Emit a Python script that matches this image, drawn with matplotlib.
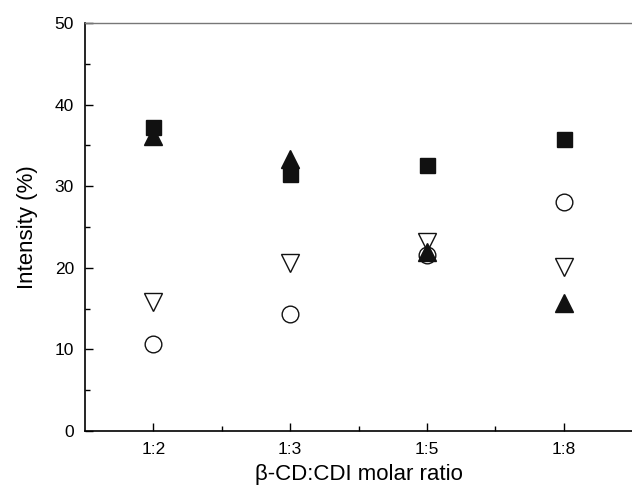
import matplotlib
matplotlib.use('Agg')

import matplotlib.pyplot as plt
import numpy as np
from matplotlib.ticker import MultipleLocator, FixedLocator

plt.rcParams['font.family'] = ['Liberation Sans', 'DejaVu Sans']

ratios = ['1:2', '1:3', '1:5', '1:8']
square_vals = [37.3, 31.5, 32.6, 35.8]      # filled squares
tri_up_vals = [36.1, 33.3, 21.9, 15.7]      # filled up triangles
tri_down_vals = [15.8, 20.6, 23.2, 20.1]    # open down triangles
circle_vals = [10.7, 14.3, 21.6, 28.1]      # open circles

x = np.arange(1, len(ratios) + 1)

fig = plt.figure(figsize=(6.32, 4.88), dpi=100)
ax = fig.add_axes([85 / 632, 1 - 431 / 488, 1 - 85 / 632, (431 - 23) / 488])

ax.plot(x, square_vals, linestyle='none', marker='s', ms=10.8,
        color='#111111', zorder=3)
ax.plot(x, tri_up_vals, linestyle='none', marker='^', ms=13,
        color='#111111', zorder=4)
ax.plot(x, tri_down_vals, linestyle='none', marker='v', ms=13,
        mfc='white', mec='#111111', mew=1.0, zorder=3)
ax.plot(x, circle_vals, linestyle='none', marker='o', ms=12,
        mfc='white', mec='#111111', mew=1.0, zorder=2)

ax.set_xlim(0.5, 4.5)
ax.set_ylim(0, 50)
ax.set_xticks(x)
ax.set_xticklabels(ratios)
ax.xaxis.set_minor_locator(FixedLocator([1.5, 2.5, 3.5]))
ax.yaxis.set_major_locator(MultipleLocator(10))
ax.yaxis.set_minor_locator(MultipleLocator(5))

ax.tick_params(which='both', direction='in', top=False, right=False, labelsize=12.5)
ax.tick_params(which='major', length=6, width=1.0)
ax.tick_params(which='minor', length=3.5, width=1.0)
ax.tick_params(axis='y', pad=8)
ax.tick_params(axis='x', pad=8)

ax.spines['right'].set_visible(False)
ax.spines['top'].set_color('#777777')
ax.spines['top'].set_linewidth(1.0)
ax.spines['left'].set_linewidth(1.2)
ax.spines['bottom'].set_linewidth(1.2)

ax.set_xlabel('β-CD:CDI molar ratio', fontsize=16, labelpad=5)
ax.set_ylabel('Intensity (%)', fontsize=16, labelpad=12)

plt.savefig('out.png', dpi=100)
plt.close()
